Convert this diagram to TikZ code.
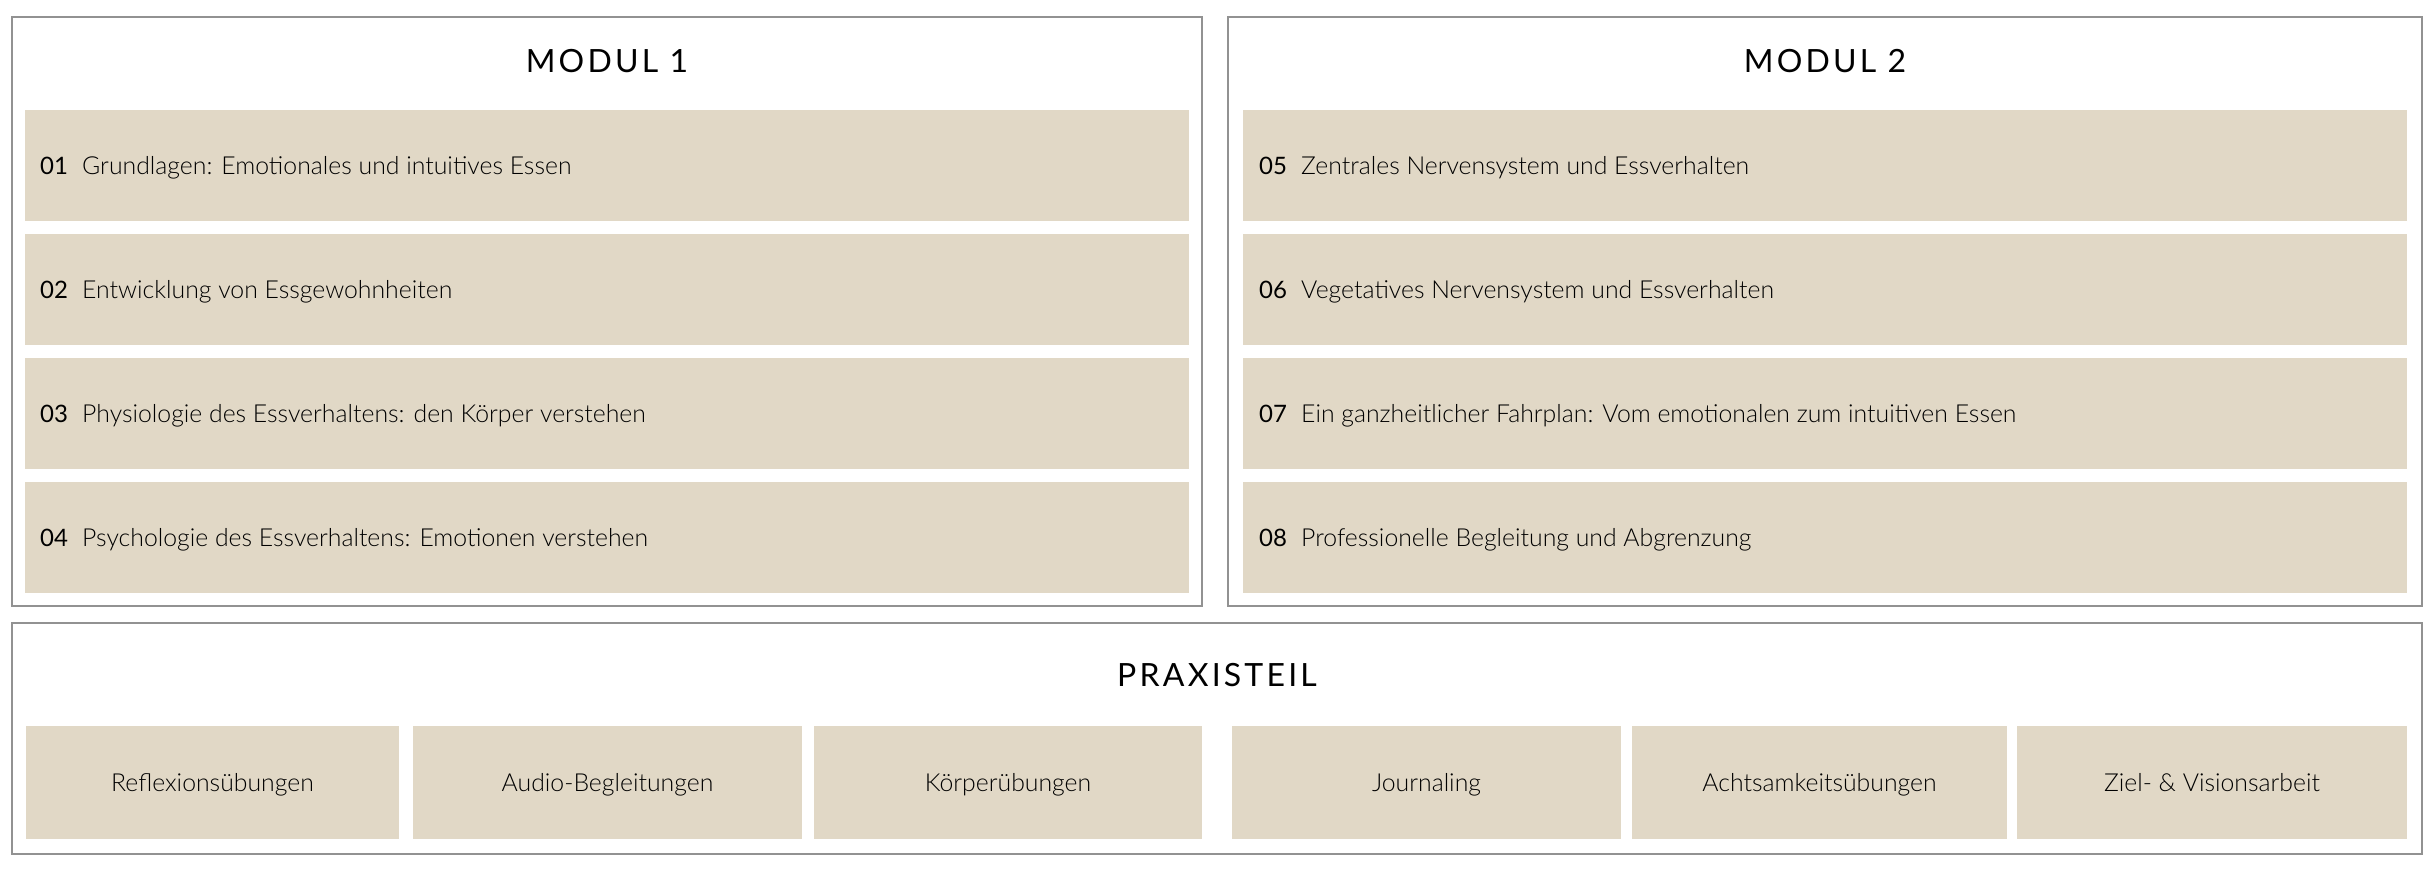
\documentclass[tikz,border=0pt]{standalone}
\usepackage{fontspec}
\setmainfont{Lato}
\newfontfamily\lightfont{Lato Light}
\usetikzlibrary{positioning}
\definecolor{beige}{HTML}{E1D8C6}
\definecolor{frame}{HTML}{929292}

\begin{document}
\begin{tikzpicture}[x=1pt,y=-1pt,
  mod_box/.style={rectangle,draw=frame,line width=1.5pt,inner sep=0pt},
  item_box/.style={rectangle,fill=beige,inner sep=0pt,minimum width=1164pt,minimum height=111pt},
  prax_box/.style={rectangle,fill=beige,inner sep=0pt,minimum height=113pt},
  title_node/.style={anchor=base,inner sep=0pt,font=\fontsize{32}{38}\selectfont\addfontfeatures{LetterSpace=10}},
  num_node/.style={anchor=base west,inner sep=0pt,font=\fontsize{24}{28}\selectfont},
  text_node/.style={anchor=base west,inner sep=0pt,font=\lightfont\fontsize{24.8}{28}\selectfont},
  prax_text/.style={anchor=base,inner sep=0pt,font=\lightfont\fontsize{24.8}{28}\selectfont}]

  \useasboundingbox (0,0) rectangle (2435,868);

  % frames
  \node[mod_box,minimum width=1190pt,minimum height=589pt] (m1) at (607,311.5) {};
  \node[mod_box,minimum width=1194pt,minimum height=589pt] (m2) at (1825,311.5) {};
  \node[mod_box,minimum width=2410pt,minimum height=231pt] (p) at (1217,738.5) {};

  \node[title_node] (t1) at (607,72.5) {MODUL 1};
  \node[title_node] (t2) at (1825,72.5) {MODUL 2};
  \node[title_node] (t3) at (1217,686) {PRAXISTEIL};

  % modul 1
  \node[item_box] (1) at (607,165.5) {};
  \node[item_box] (2) at (607,289.5) {};
  \node[item_box] (3) at (607,413.5) {};
  \node[item_box] (4) at (607,537.5) {};
  \node[num_node] (n1) at (40,174.5) {01};
  \node[num_node] (n2) at (40,298.5) {02};
  \node[num_node] (n3) at (40,422.5) {03};
  \node[num_node] (n4) at (40,546.5) {04};
  \node[text_node] (l1) at (82,174.5) {Grundlagen: Emotionales und intuitives Essen};
  \node[text_node] (l2) at (82,298.5) {Entwicklung von Essgewohnheiten};
  \node[text_node] (l3) at (82,422.5) {Physiologie des Essverhaltens: den Körper verstehen};
  \node[text_node] (l4) at (82,546.5) {Psychologie des Essverhaltens: Emotionen verstehen};

  % modul 2
  \node[item_box] (5) at (1825,165.5) {};
  \node[item_box] (6) at (1825,289.5) {};
  \node[item_box] (7) at (1825,413.5) {};
  \node[item_box] (8) at (1825,537.5) {};
  \node[num_node] (n5) at (1259,174.5) {05};
  \node[num_node] (n6) at (1259,298.5) {06};
  \node[num_node] (n7) at (1259,422.5) {07};
  \node[num_node] (n8) at (1259,546.5) {08};
  \node[text_node] (l5) at (1301,174.5) {Zentrales Nervensystem und Essverhalten};
  \node[text_node] (l6) at (1301,298.5) {Vegetatives Nervensystem und Essverhalten};
  \node[text_node] (l7) at (1301,422.5) {Ein ganzheitlicher Fahrplan: Vom emotionalen zum intuitiven Essen};
  \node[text_node] (l8) at (1301,546.5) {Professionelle Begleitung und Abgrenzung};

  % praxisteil
  \node[prax_box,minimum width=373pt] (p1) at (212.5,782.5) {};
  \node[prax_box,minimum width=389pt] (p2) at (607.5,782.5) {};
  \node[prax_box,minimum width=388pt] (p3) at (1008,782.5) {};
  \node[prax_box,minimum width=389pt] (p4) at (1426.5,782.5) {};
  \node[prax_box,minimum width=375pt] (p5) at (1819.5,782.5) {};
  \node[prax_box,minimum width=390pt] (p6) at (2212,782.5) {};
  \node[prax_text] (q1) at (212.5,791) {Reflexionsübungen};
  \node[prax_text] (q2) at (607.5,791) {Audio-Begleitungen};
  \node[prax_text] (q3) at (1008,791) {Körperübungen};
  \node[prax_text] (q4) at (1426.5,791) {Journaling};
  \node[prax_text] (q5) at (1819.5,791) {Achtsamkeitsübungen};
  \node[prax_text] (q6) at (2212,791) {Ziel- \& Visionsarbeit};

\end{tikzpicture}
\end{document}
